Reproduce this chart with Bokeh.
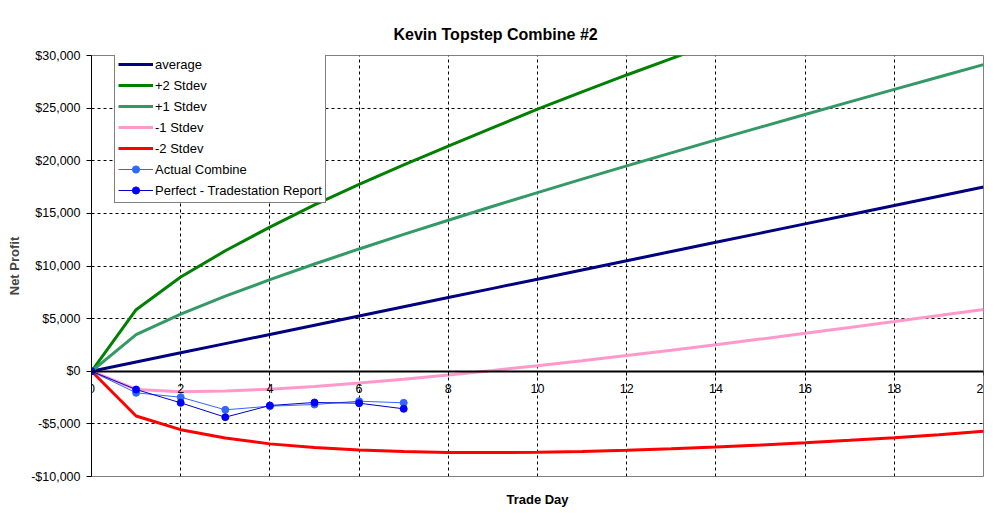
from bokeh.plotting import figure
from bokeh.models import (Range1d, SingleIntervalTicker, FixedTicker, NumeralTickFormatter,
                          Legend, LinearAxis, Title)
from bokeh.embed import file_html
from bokeh.resources import INLINE

# ---------------- data ----------------
days = [0, 1, 2, 3, 4, 5, 6, 7, 8, 9, 10, 11, 12, 13, 14, 15, 16, 17, 18, 19, 20]
average = [0, 875, 1750, 2625, 3500, 4375, 5250, 6125, 7000, 7875, 8750, 9625,
           10500, 11375, 12250, 13125, 14000, 14875, 15750, 16625, 17500]
plus2_days = [0, 1, 2, 3, 4, 5, 6, 7, 8, 9, 10, 11, 12, 13, 14]
plus2 = [0, 5850, 8950, 11450, 13700, 15800, 17750, 19600, 21400, 23150,
         24900, 26550, 28150, 29700, 31250]
plus1 = [0, 3475, 5430, 7130, 8700, 10190, 11620, 13000, 14350, 15675, 16970,
         18250, 19510, 20750, 21980, 23195, 24400, 25595, 26780, 27960, 29130]
minus1 = [0, -1725, -1950, -1880, -1700, -1440, -1120, -755, -355, 75, 530,
          1000, 1495, 2000, 2520, 3055, 3600, 4155, 4720, 5290, 5875]
minus2 = [0, -4250, -5550, -6350, -6900, -7255, -7490, -7635, -7710, -7725,
          -7695, -7620, -7515, -7375, -7205, -7015, -6800, -6565, -6310, -6040, -5700]
combine_days = [0, 1, 2, 3, 4, 5, 6, 7]
actual_combine = [0, -2050, -2465, -3665, -3320, -3160, -2845, -3000]
perfect_report = [0, -1735, -3000, -4365, -3255, -2970, -3035, -3570]

title_text = "Kevin Topstep Combine #2"
x_title = "Trade Day"
y_title = "Net Profit"

FONT = "Liberation Sans"

p = figure(width=996, height=523, output_backend="svg", toolbar_location=None,
           x_range=Range1d(0, 20), y_range=Range1d(-10000, 30000),
           min_border_left=91, min_border_right=13, min_border_top=55,
           min_border_bottom=47, x_axis_location=None, y_axis_location="left")
p.background_fill_color = "white"
p.border_fill_color = "white"
p.outline_line_color = "#808080"
p.outline_line_width = 1

p.title = Title(text=title_text, align="left", offset=302, text_font=FONT,
                text_font_size="16px", text_font_style="bold", text_color="black",
                standoff=25)

# y axis
yax = p.yaxis[0]
yax.ticker = SingleIntervalTicker(interval=5000)
yax.formatter = NumeralTickFormatter(format="$0,0")
yax.axis_line_color = "black"
yax.major_tick_line_color = "black"
yax.major_tick_in = 0
yax.major_tick_out = 5
yax.minor_tick_line_color = None
yax.major_label_text_font = FONT
yax.major_label_text_font_size = "12.5px"
yax.major_label_text_color = "black"
yax.major_label_standoff = 6
yax.axis_label = y_title
yax.axis_label_text_font = FONT
yax.axis_label_text_font_style = "bold"
yax.axis_label_text_font_size = "13px"
yax.axis_label_standoff = 6

# x axis title (label only) directly below the frame
xlab = LinearAxis(axis_label=x_title, ticker=FixedTicker(ticks=[]))
xlab.axis_line_color = None
xlab.major_tick_line_color = None
xlab.minor_tick_line_color = None
xlab.major_tick_in = 0
xlab.major_tick_out = 0
xlab.major_label_standoff = 0
xlab.axis_label_standoff = 15
xlab.axis_label_text_font = FONT
xlab.axis_label_text_font_style = "bold"
xlab.axis_label_text_font_size = "13px"
xlab.axis_label_text_color = "black"
p.add_layout(xlab, "below")

# x axis crossing at y = 0
xax = LinearAxis(ticker=SingleIntervalTicker(interval=2), fixed_location=0)
xax.axis_line_color = "black"
xax.axis_line_width = 2
xax.major_tick_line_color = "black"
xax.major_tick_in = 0
xax.major_tick_out = 4
xax.minor_tick_line_color = None
xax.major_label_text_font = FONT
xax.major_label_text_font_size = "12.5px"
xax.major_label_text_color = "black"
xax.major_label_standoff = 9
p.add_layout(xax, "below")

# grids
p.xgrid.ticker = SingleIntervalTicker(interval=2)
p.ygrid.ticker = SingleIntervalTicker(interval=5000)
for g in (p.xgrid[0], p.ygrid[0]):
    g.grid_line_color = "black"
    g.grid_line_dash = "3 3"
    g.grid_line_width = 1

# series
r_avg = p.line(days, average, line_color="#000080", line_width=3)
r_p2 = p.line(plus2_days, plus2, line_color="#008000", line_width=3)
r_p1 = p.line(days, plus1, line_color="#339966", line_width=3)
r_m1 = p.line(days, minus1, line_color="#FF99CC", line_width=3)
r_m2 = p.line(days, minus2, line_color="#FF0000", line_width=3)
r_act_l = p.line(combine_days, actual_combine, line_color="#3366FF", line_width=1)
r_act_m = p.scatter(combine_days, actual_combine, marker="circle", size=7,
                    fill_color="#3366FF", line_color="#3366FF")
r_per_l = p.line(combine_days, perfect_report, line_color="#0000CC", line_width=1)
r_per_m = p.scatter(combine_days, perfect_report, marker="circle", size=7,
                    fill_color="#0000FF", line_color="#0000FF")

legend = Legend(items=[
    ("average", [r_avg]),
    ("+2 Stdev", [r_p2]),
    ("+1 Stdev", [r_p1]),
    ("-1 Stdev", [r_m1]),
    ("-2 Stdev", [r_m2]),
    ("Actual Combine", [r_act_l, r_act_m]),
    ("Perfect - Tradestation Report", [r_per_l, r_per_m]),
], location=(23, 273))
legend.border_line_color = "black"
legend.border_line_width = 1
legend.background_fill_color = "white"
legend.background_fill_alpha = 1
legend.label_text_font = FONT
legend.label_text_font_size = "13px"
legend.label_text_color = "black"
legend.glyph_width = 35
legend.glyph_height = 18
legend.label_height = 18
legend.label_standoff = 2
legend.spacing = 3
legend.padding = 3
legend.margin = 0
p.add_layout(legend, "center")

open("out.html", "w").write(file_html(p, INLINE))
